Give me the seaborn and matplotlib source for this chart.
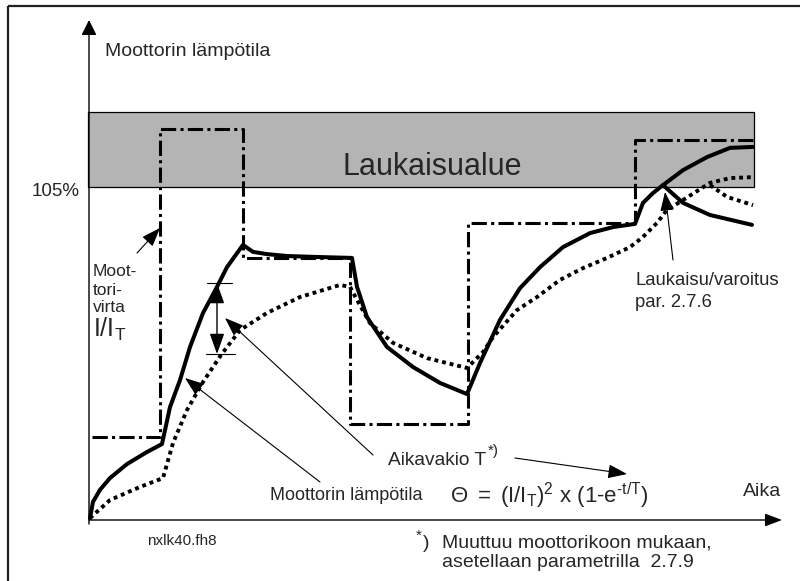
import matplotlib
matplotlib.use("Agg")
import matplotlib.pyplot as plt
from matplotlib.patches import Rectangle
import seaborn as sns

# ---------------- data (time units, motor temperature in %) ----------------
trip_level = 105.0          # "105%" limit
band_top = 128.6            # top of the trip zone
band_t = [-0.14, 95.0]      # horizontal extent of the trip zone

# motor current I/I_T (step signal, dash-dot)
current_t = [0.43, 10.14, 22.0, 37.29, 54.14, 78.0, 94.86]
current_v = [26.4, 123.2, 82.7, 30.5, 93.7, 119.8, 119.8]

# motor temperature (solid)
temp_t = [0.14, 0.57, 1.57, 3.0, 5.43, 8.29, 10.43, 11.57, 13.0, 14.43, 16.29,
          18.29, 19.71, 22.0, 23.43, 25.43, 28.29, 32.57, 37.57, 38.29, 39.71,
          42.57, 46.29, 50.14, 54.0, 55.86, 58.71, 61.57, 64.43, 67.71, 71.57,
          74.86, 78.0, 79.14, 80.57, 82.0, 84.86, 88.29, 91.57, 94.86]
temp_v = [0.9, 6.0, 9.8, 13.5, 17.9, 21.7, 24.2, 35.8, 44.3, 54.7, 65.4,
          73.6, 79.8, 86.8, 84.6, 83.9, 83.3, 83.0, 82.7, 73.6, 64.1,
          54.7, 48.4, 43.4, 39.9, 49.7, 63.2, 73.2, 79.8, 86.1, 90.5,
          92.4, 93.4, 100.0, 103.1, 105.6, 110.3, 114.4, 117.3, 117.6]
# temperature after trip (solid, falling branch)
temp_trip_t = [82.0, 84.86, 88.71, 94.71]
temp_trip_v = [105.6, 100.0, 96.2, 93.1]

# thermal model curve (dotted)
model_t = [0.14, 3.0, 7.29, 10.57, 12.0, 14.0, 16.29, 18.86, 21.57, 25.43,
           30.14, 35.86, 37.29, 38.29, 40.14, 43.43, 48.29, 54.0, 56.29,
           57.71, 61.14, 64.0, 67.29, 70.57, 74.0, 77.29, 79.14, 81.14,
           82.57, 84.86, 88.71, 91.57, 94.86]
model_v = [0.9, 6.6, 10.7, 13.5, 24.5, 34.9, 43.7, 52.2, 60.0, 65.4,
           70.4, 74.2, 73.6, 69.5, 62.2, 56.0, 51.2, 48.1, 53.1,
           57.8, 66.3, 70.4, 75.8, 79.5, 82.7, 86.1, 89.3, 93.7,
           97.8, 100.9, 106.3, 107.8, 108.1]
model_trip_t = [88.71, 91.14, 94.86]
model_trip_v = [105.6, 101.9, 99.3]

# ---------------- layout helpers ----------------
W, H = 800, 581
X0, SX = 89.0, 7.0          # pixel of t=0, pixels per time unit
Y0, SY = 521.0, 3.181       # pixel of 0 %, pixels per %


def P(px, py):
    return ((px - X0) / SX, (Y0 - py) / SY)


sns.set_theme(style="white")
plt.rcParams["font.family"] = ["Liberation Sans", "DejaVu Sans"]
plt.rcParams["mathtext.fontset"] = "custom"
plt.rcParams["mathtext.rm"] = "Liberation Sans"
plt.rcParams["mathtext.it"] = "Liberation Sans"
plt.rcParams["mathtext.bf"] = "Liberation Sans:bold"

fig = plt.figure(figsize=(W / 100, H / 100), dpi=100)
ax = fig.add_axes([0, 0, 1, 1])
ax.set_xlim(P(0, 0)[0], P(W, 0)[0])
ax.set_ylim(P(0, H)[1], P(0, 0)[1])
ax.axis("off")

# outer frame (top + left)
ax.plot([P(8, 6)[0], P(800, 6)[0]], [P(8, 6)[1]] * 2, color="#222222", lw=1.6,
        solid_capstyle="butt")
ax.plot([P(8, 6)[0]] * 2, [P(8, 6)[1], P(8, 581)[1]], color="#222222", lw=1.6,
        solid_capstyle="butt")

# trip zone
ax.add_patch(Rectangle((band_t[0], trip_level), band_t[1] - band_t[0],
                       band_top - trip_level, facecolor="#b4b4b4",
                       edgecolor="black", lw=0.9, zorder=1))
ax.text(*P(342, 175), "Laukaisualue", fontsize=22, va="baseline", ha="left",
        zorder=5)

# axes arrows
ax.annotate("", xy=P(89, 20), xytext=P(89, 524),
            arrowprops=dict(arrowstyle="-|>,head_length=0.4,head_width=0.2",
                            lw=1.0, color="black", mutation_scale=23,
                            shrinkA=0, shrinkB=0))
ax.annotate("", xy=P(782, 520), xytext=P(89, 520),
            arrowprops=dict(arrowstyle="-|>,head_length=0.45,head_width=0.17",
                            lw=1.0, color="black", mutation_scale=23,
                            shrinkA=0, shrinkB=0))

# curves
sns.lineplot(x=current_t, y=current_v, ax=ax, color="black", lw=2.2,
             drawstyle="steps-post", linestyle=(0, (5, 1.4, 1, 1.4)),
             estimator=None, sort=False, zorder=3)
sns.lineplot(x=model_t, y=model_v, ax=ax, color="black", lw=2.8,
             linestyle=(0, (1, 1)), estimator=None, sort=False, zorder=3)
sns.lineplot(x=model_trip_t, y=model_trip_v, ax=ax, color="black", lw=2.8,
             linestyle=(0, (1, 1)), estimator=None, sort=False, zorder=3)
sns.lineplot(x=temp_t, y=temp_v, ax=ax, color="black", lw=2.9,
             estimator=None, sort=False, zorder=4)
sns.lineplot(x=temp_trip_t, y=temp_trip_v, ax=ax, color="black", lw=2.9,
             estimator=None, sort=False, zorder=4)

# texts
ax.text(*P(105, 56), "Moottorin lämpötila", fontsize=14, va="baseline")
ax.text(*P(80, 191), "105%", fontsize=13.5, va="center", ha="right")
ax.text(*P(93, 276), "Moot-", fontsize=12.5, va="baseline")
ax.text(*P(93, 295), "tori-", fontsize=12.5, va="baseline")
ax.text(*P(93, 312), "virta", fontsize=12.5, va="baseline")
ax.text(*P(93, 337), r"$\mathregular{I/I_T}$", fontsize=18, va="baseline")
ax.text(*P(635, 285), "Laukaisu/varoitus", fontsize=13.3, va="baseline")
ax.text(*P(635, 307), "par. 2.7.6", fontsize=13.3, va="baseline")
ax.text(*P(388, 465), "Aikavakio T", fontsize=13.8, va="baseline")
ax.text(*P(488, 455), "*)", fontsize=11, va="baseline")
ax.text(*P(270, 500), "Moottorin lämpötila", fontsize=13, va="baseline")
ax.text(*P(450, 503),
        r"$\mathregular{\Theta\ =\ (I/I_T)^2\ x\ (1\text{-}e^{\text{-}t/T})}$",
        fontsize=16, va="baseline")
ax.text(*P(743, 496), "Aika", fontsize=14, va="baseline")
ax.text(*P(147, 545), "nxlk40.fh8", fontsize=11, va="baseline")
ax.text(*P(416, 540), "*", fontsize=11, va="baseline")
ax.text(*P(423, 548), ")", fontsize=14, va="baseline")
ax.text(*P(442, 548), "Muuttuu moottorikoon mukaan,", fontsize=14,
        va="baseline")
ax.text(*P(442, 567), "asetellaan parametrilla  2.7.9", fontsize=14,
        va="baseline")

# annotation arrows
arrow = dict(arrowstyle="-|>,head_length=0.65,head_width=0.24", lw=0.8,
             color="black", mutation_scale=18, shrinkA=0, shrinkB=0)
for tip, tail in [((160, 228), (137, 253)),
                  ((225, 318), (373, 455)),
                  ((185, 378), (320, 482)),
                  ((627, 474), (515, 458)),
                  ((665, 192), (673, 260))]:
    ax.annotate("", xy=P(*tip), xytext=P(*tail), arrowprops=arrow, zorder=6)

# time-constant double arrow with bars
ax.annotate("", xy=P(217, 283), xytext=P(217, 354),
            arrowprops=dict(arrowstyle="<|-|>,head_length=0.7,head_width=0.25",
                            lw=1.0, color="black", mutation_scale=18,
                            shrinkA=0, shrinkB=0), zorder=6)
ax.plot([P(207, 283)[0], P(232, 283)[0]], [P(0, 283)[1]] * 2, color="black",
        lw=0.8)
ax.plot([P(206, 354)[0], P(235, 354)[0]], [P(0, 354)[1]] * 2, color="black",
        lw=0.8)

fig.savefig("out.png", dpi=100)
